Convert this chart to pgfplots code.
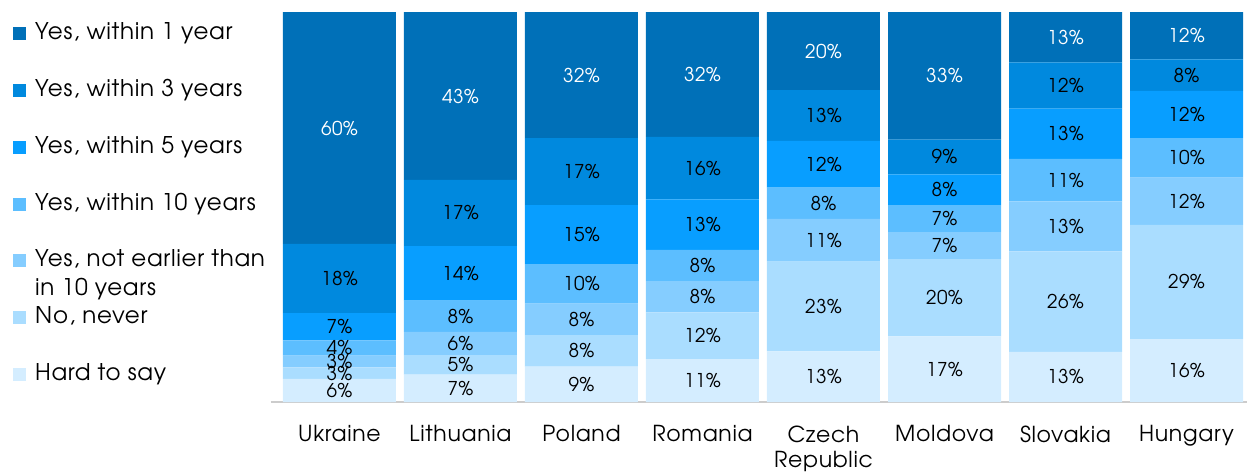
\documentclass[border=0pt]{standalone}
\usepackage{pgfplots}
\usepackage{pgfplotstable}
\pgfplotsset{compat=1.18}
\usepackage{fontspec}
\setmainfont[LetterSpace=3]{TeX Gyre Adventor}
\definecolor{cA}{RGB}{0,112,184}
\definecolor{cB}{RGB}{0,137,222}
\definecolor{cC}{RGB}{8,158,255}
\definecolor{cD}{RGB}{92,190,255}
\definecolor{cE}{RGB}{133,205,255}
\definecolor{cF}{RGB}{170,221,255}
\definecolor{cG}{RGB}{212,237,255}
% columns bottom to top: hard, never, later, y10, y5, y3, y1
\pgfplotstableread{
x hard never later y10 y5 y3 y1
0 6 3 3 4 7 18 60
1 7 5 6 8 14 17 43
2 9 8 8 10 15 17 32
3 11 12 8 8 13 16 32
4 13 23 11 8 12 13 20
5 17 20 7 7 8 9 33
6 13 26 13 11 13 12 13
7 16 29 12 10 12 8 12
}\datatable
\newcommand{\tot}{(\thisrow{hard}+\thisrow{never}+\thisrow{later}+\thisrow{y10}+\thisrow{y5}+\thisrow{y3}+\thisrow{y1})}
\begin{document}
\begin{tikzpicture}[x=1pt,y=1pt]
\path[use as bounding box] (0,0) rectangle (1247,-474);
\begin{axis}[
  at={(270.5pt,-402pt)}, anchor=south west,
  scale only axis, width=976.5pt, height=390pt,
  ybar stacked, bar width=113pt,
  xmin=-0.57, xmax=7.5, ymin=0, ymax=100.05,
  axis x line=bottom, axis y line=none,
  x axis line style={-, draw=black!20, line width=1.5pt},
  xtick={0,1,2,3,4,5,6,7},
  xticklabels={Ukraine,Lithuania,Poland,Romania,Czech\\Republic,Moldova,Slovakia,Hungary},
  major tick length=0pt,
  /pgf/number format/assume math mode=true,
  xticklabel style={font=\fontsize{22}{25}\selectfont, align=center, anchor=north, yshift=-20pt},
  nodes near coords={\pgfmathprintnumber{\pgfplotspointmeta}\%},
  nodes near coords style={font=\fontsize{19}{21}\selectfont, anchor=center, text=black},
  point meta=explicit,
]
\addplot[fill=cG, draw=none] table[x=x, y expr=\thisrow{hard}*100/\tot, meta=hard] {\datatable};
\addplot[fill=cF, draw=none] table[x=x, y expr=\thisrow{never}*100/\tot, meta=never] {\datatable};
\addplot[fill=cE, draw=none] table[x=x, y expr=\thisrow{later}*100/\tot, meta=later] {\datatable};
\addplot[fill=cD, draw=none] table[x=x, y expr=\thisrow{y10}*100/\tot, meta=y10] {\datatable};
\addplot[fill=cC, draw=none] table[x=x, y expr=\thisrow{y5}*100/\tot, meta=y5] {\datatable};
\addplot[fill=cB, draw=none] table[x=x, y expr=\thisrow{y3}*100/\tot, meta=y3] {\datatable};
\addplot[fill=cA, draw=none, nodes near coords style={text=white}] table[x=x, y expr=\thisrow{y1}*100/\tot, meta=y1] {\datatable};
\end{axis}
\begin{scope}[every node/.style={anchor=base west, inner sep=0pt, font=\fontsize{23}{28}\selectfont}]
\fill[cA] (13,-27) rectangle ++(12.5,-12.5);
\node at (35,-39.5) {Yes, within 1 year};
\fill[cB] (13,-84) rectangle ++(12.5,-12.5);
\node at (35,-96.5) {Yes, within 3 years};
\fill[cC] (13,-141) rectangle ++(12.5,-12.5);
\node at (35,-153.5) {Yes, within 5 years};
\fill[cD] (13,-198) rectangle ++(12.5,-12.5);
\node at (35,-210.5) {Yes, within 10 years};
\fill[cE] (13,-254) rectangle ++(12.5,-12.5);
\node at (35,-266.5) {Yes, not earlier than};
\node at (35,-295) {in 10 years};
\fill[cF] (13,-311) rectangle ++(12.5,-12.5);
\node at (35,-323.5) {No, never};
\fill[cG] (13,-368) rectangle ++(12.5,-12.5);
\node at (35,-380.5) {Hard to say};
\end{scope}
\end{tikzpicture}
\end{document}
